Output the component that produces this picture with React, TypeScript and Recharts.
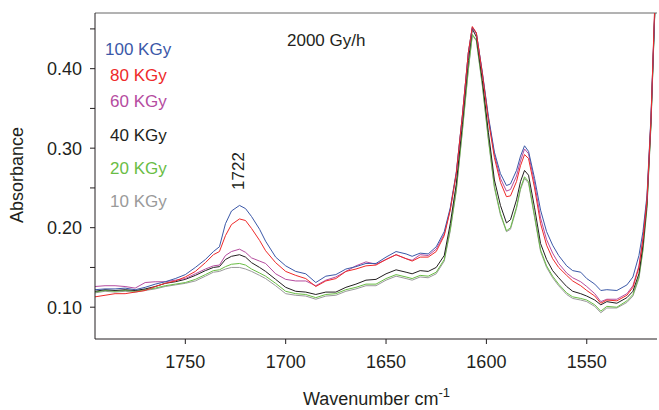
import { LineChart, Line, XAxis, YAxis, ReferenceLine, Customized } from "recharts";

const wavenumbers = [
  1795, 1790, 1785, 1780, 1775, 1770, 1765, 1760, 1755, 1750, 1745, 1740, 1736, 1733, 1730, 1727, 1723, 1720,
  1717, 1713, 1710, 1705, 1700, 1695, 1690, 1685, 1680, 1675, 1670, 1665, 1660, 1655, 1650, 1645, 1640, 1637,
  1633, 1629, 1625, 1621, 1618, 1615, 1612, 1609, 1607, 1605, 1602, 1599, 1596, 1593, 1590, 1588, 1585, 1583,
  1581, 1579, 1576, 1573, 1570, 1567, 1564, 1560, 1557, 1553, 1550, 1546, 1543, 1540, 1535, 1530, 1527, 1524,
  1522, 1520, 1518, 1516,
];

const kgy100 = [
  0.122, 0.123, 0.123, 0.124, 0.122, 0.125, 0.129, 0.132, 0.136, 0.141, 0.15, 0.16, 0.17, 0.176, 0.205, 0.221,
  0.228, 0.224, 0.214, 0.198, 0.183, 0.163, 0.152, 0.145, 0.142, 0.131, 0.139, 0.141, 0.148, 0.151, 0.155, 0.155,
  0.163, 0.17, 0.167, 0.164, 0.168, 0.167, 0.176, 0.195, 0.225, 0.27, 0.34, 0.42, 0.452, 0.445, 0.395, 0.34,
  0.295, 0.268, 0.253, 0.255, 0.272, 0.29, 0.303, 0.296, 0.262, 0.222, 0.195, 0.178, 0.165, 0.152, 0.146, 0.144,
  0.136, 0.129, 0.121, 0.122, 0.121, 0.128, 0.138, 0.165, 0.195, 0.24, 0.34, 0.48,
];
const kgy80 = [
  0.113, 0.115, 0.117, 0.117, 0.119, 0.121, 0.126, 0.13, 0.133, 0.138, 0.145, 0.156, 0.166, 0.17, 0.19, 0.204,
  0.211, 0.209, 0.199, 0.184, 0.171, 0.156, 0.145, 0.14, 0.136, 0.126, 0.133, 0.136, 0.145, 0.148, 0.152, 0.153,
  0.16, 0.166, 0.161, 0.158, 0.163, 0.163, 0.17, 0.19, 0.222, 0.268, 0.34, 0.42, 0.453, 0.445, 0.393, 0.335,
  0.288, 0.257, 0.239, 0.24, 0.258, 0.278, 0.292, 0.287, 0.25, 0.205, 0.178, 0.161, 0.15, 0.14, 0.133, 0.127,
  0.121, 0.114, 0.105, 0.109, 0.108, 0.115, 0.125, 0.15, 0.185, 0.235, 0.336, 0.49,
];
const kgy60 = [
  0.126, 0.127, 0.127, 0.126, 0.124, 0.131, 0.132, 0.132, 0.134, 0.136, 0.142, 0.148, 0.152, 0.153, 0.165, 0.17,
  0.173, 0.169, 0.162, 0.158, 0.155, 0.142, 0.135, 0.133, 0.133, 0.127, 0.134, 0.138, 0.145, 0.152, 0.157, 0.154,
  0.16, 0.166, 0.161, 0.159, 0.166, 0.165, 0.173, 0.192, 0.223, 0.268, 0.34, 0.42, 0.452, 0.444, 0.394, 0.338,
  0.292, 0.262, 0.246, 0.248, 0.265, 0.284, 0.299, 0.293, 0.256, 0.212, 0.185, 0.168, 0.155, 0.143, 0.137, 0.132,
  0.126, 0.117, 0.107, 0.11, 0.11, 0.117, 0.127, 0.152, 0.187, 0.236, 0.337, 0.485,
];
const kgy40 = [
  0.12, 0.122, 0.121, 0.122, 0.121, 0.123, 0.126, 0.13, 0.132, 0.135, 0.14, 0.146, 0.15, 0.151, 0.16, 0.164,
  0.166, 0.163, 0.156, 0.15, 0.145, 0.135, 0.125, 0.12, 0.119, 0.116, 0.119, 0.119, 0.125, 0.129, 0.134, 0.135,
  0.142, 0.147, 0.144, 0.142, 0.146, 0.145, 0.15, 0.165, 0.205, 0.255, 0.33, 0.41, 0.45, 0.44, 0.385, 0.32,
  0.26, 0.228, 0.206, 0.21, 0.235, 0.258, 0.272, 0.266, 0.225, 0.18, 0.16, 0.146, 0.137, 0.126, 0.12, 0.117,
  0.114, 0.109, 0.103, 0.107, 0.105, 0.112, 0.12, 0.142, 0.178, 0.23, 0.333, 0.48,
];
const kgy20 = [
  0.119, 0.121, 0.12, 0.121, 0.12, 0.122, 0.124, 0.127, 0.129, 0.131, 0.135, 0.141, 0.146, 0.147, 0.151, 0.154,
  0.155, 0.153, 0.148, 0.143, 0.139, 0.13, 0.12, 0.117, 0.116, 0.112, 0.116, 0.117, 0.122, 0.125, 0.129, 0.129,
  0.136, 0.141, 0.138, 0.136, 0.14, 0.139, 0.144, 0.16, 0.198, 0.248, 0.322, 0.4, 0.443, 0.436, 0.38, 0.312,
  0.252, 0.218, 0.196, 0.2, 0.226, 0.25, 0.264, 0.258, 0.215, 0.172, 0.152, 0.139, 0.129, 0.118, 0.113, 0.111,
  0.109, 0.103, 0.095, 0.101, 0.1, 0.108, 0.116, 0.138, 0.173, 0.226, 0.33, 0.478,
];
const kgy10 = [
  0.118, 0.12, 0.119, 0.12, 0.119, 0.121, 0.123, 0.126, 0.128, 0.13, 0.133, 0.139, 0.144, 0.145, 0.148, 0.15,
  0.15, 0.148, 0.145, 0.14, 0.136, 0.127, 0.117, 0.115, 0.114, 0.11, 0.114, 0.115, 0.12, 0.123, 0.127, 0.127,
  0.134, 0.139, 0.136, 0.134, 0.138, 0.137, 0.142, 0.158, 0.196, 0.246, 0.32, 0.398, 0.442, 0.435, 0.378, 0.31,
  0.25, 0.216, 0.195, 0.198, 0.224, 0.248, 0.262, 0.256, 0.213, 0.17, 0.15, 0.137, 0.127, 0.116, 0.111, 0.109,
  0.107, 0.101, 0.093, 0.099, 0.099, 0.106, 0.114, 0.136, 0.171, 0.224, 0.328, 0.476,
];

const xTicks = [1750, 1700, 1650, 1600, 1550];
const yTicks = [0.1, 0.15, 0.2, 0.25, 0.3, 0.35, 0.4, 0.45];

const series = [
  { key: "k10", label: "10 KGy", color: "#9a9a9a", values: kgy10 },
  { key: "k20", label: "20 KGy", color: "#6abd45", values: kgy20 },
  { key: "k40", label: "40 KGy", color: "#231f20", values: kgy40 },
  { key: "k60", label: "60 KGy", color: "#b54c9f", values: kgy60 },
  { key: "k100", label: "100 KGy", color: "#3b58a8", values: kgy100 },
  { key: "k80", label: "80 KGy", color: "#ee2a2a", values: kgy80 },
];

const legendOrder = ["k100", "k80", "k60", "k40", "k20", "k10"];
const legendY = [49, 75, 101, 135, 168, 201];

const data = wavenumbers.map((wn, i) => {
  const row: Record<string, number> = { wn };
  series.forEach((s) => {
    row[s.key] = s.values[i];
  });
  return row;
});

const font = "'Liberation Sans', Arial, sans-serif";
const textColor = "#231f20";

const Annotations = () => (
  <g fontFamily={font}>
    {legendOrder.map((k, i) => {
      const s = series.find((x) => x.key === k)!;
      return (
        <text
          key={k}
          x={i === 0 ? 105 : 110}
          y={legendY[i]}
          dy="0.35em"
          fontSize={17}
          fill={s.color}
        >
          {s.label}
        </text>
      );
    })}
    <text x={287} y={46} fontSize={17} fill={textColor}>
      2000 Gy/h
    </text>
    <text
      x={238}
      y={171}
      fontSize={17}
      fill={textColor}
      textAnchor="middle"
      dy="0.35em"
      transform="rotate(-90 238 171)"
    >
      1722
    </text>
    <text
      x={17}
      y={175}
      fontSize={18}
      fill={textColor}
      textAnchor="middle"
      dy="0.35em"
      transform="rotate(-90 17 175)"
    >
      Absorbance
    </text>
    <text x={303} y={405} fontSize={18} fill={textColor}>
      Wavenumber cm
      <tspan fontSize={13} dy={-8}>
        -1
      </tspan>
    </text>
  </g>
);

export default function App() {
  return (
    <div style={{ position: "absolute", left: 0, top: 0, background: "#fff" }}>
      <LineChart
        width={659}
        height={410}
        data={data}
        margin={{ top: 13, right: 2, bottom: 41, left: 0 }}
      >
        <XAxis
          dataKey="wn"
          type="number"
          domain={[1515, 1795]}
          reversed
          allowDataOverflow
          ticks={xTicks}
          tickSize={5}
          tickMargin={11}
          height={30}
          stroke={textColor}
          tick={{ fill: textColor, fontSize: 18, fontFamily: font }}
        />
        <YAxis
          type="number"
          domain={[0.06, 0.47]}
          allowDataOverflow
          ticks={yTicks}
          tickFormatter={(v: number) =>
            Math.abs(v * 10 - Math.round(v * 10)) < 1e-6 ? v.toFixed(2) : ""
          }
          tickSize={5}
          tickMargin={8}
          width={95}
          stroke={textColor}
          tick={{ fill: textColor, fontSize: 18, fontFamily: font }}
        />
        <ReferenceLine y={0.47} stroke="#666" strokeWidth={1} />
        {series.map((s) => (
          <Line
            key={s.key}
            dataKey={s.key}
            type="linear"
            stroke={s.color}
            strokeWidth={1}
            dot={false}
            activeDot={false}
            isAnimationActive={false}
          />
        ))}
        <Customized component={Annotations} />
      </LineChart>
    </div>
  );
}
